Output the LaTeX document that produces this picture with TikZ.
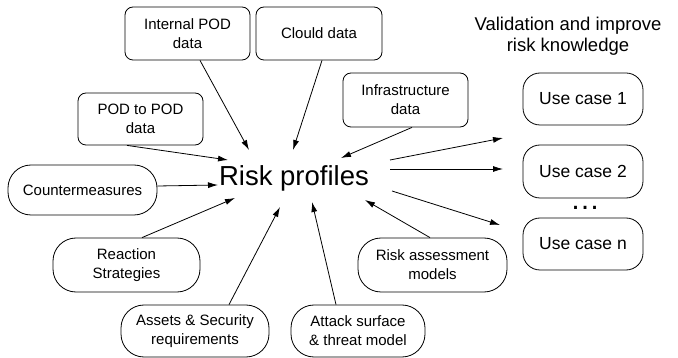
\documentclass[tikz,border=0pt]{standalone}
\usepackage{fontspec}
\setmainfont{Liberation Sans}
\usetikzlibrary{arrows.meta}
\begin{document}
\begin{tikzpicture}[x=1pt,y=-1pt,
  every node/.style={inner sep=0pt},
  box/.style={draw, line width=0.8pt, rounded corners=8pt, align=center, font=\fontsize{15}{19}\selectfont},
  pill/.style={draw, line width=0.8pt, rounded corners=23pt, align=center, font=\fontsize{15}{19}\selectfont},
  usecase/.style={draw, line width=0.8pt, rounded corners=17pt, align=center, minimum width=120pt, font=\fontsize{17.5}{21}\selectfont},
  arr/.style={line width=0.8pt, -{Latex[length=10pt,width=6pt]}}]
\useasboundingbox (0,0) rectangle (678,358);

% input boxes
\node[box, minimum width=125pt, minimum height=53pt] (ipod) at (187.5,33.5) {Internal POD\\data};
\node[box, minimum width=126pt, minimum height=53pt] (cloud) at (319,33.5) {Clould data};
\node[box, minimum width=125pt, minimum height=52pt] (p2p) at (140.5,119) {POD to POD\\data};
\node[box, minimum width=125pt, minimum height=54pt] (infra) at (405.5,100) {Infrastructure\\data};
\node[pill, minimum width=149pt, minimum height=50pt] (cm) at (82.5,190) {Countermeasures};
\node[pill, minimum width=147pt, minimum height=54pt] (react) at (126.5,265) {Reaction\\Strategies};
\node[pill, minimum width=148pt, minimum height=52pt] (assets) at (195,331) {Assets \& Security\\requirements};
\node[pill, minimum width=134pt, minimum height=52pt] (attack) at (358,331) {Attack surface\\\& threat model};
\node[pill, minimum width=149pt, minimum height=54pt] (ram) at (432.5,265) {Risk assessment\\models};

% centre
\node[font=\fontsize{27.5}{32}\selectfont] (rp) at (294,178) {Risk profiles};

% right side
\node[align=center, font=\fontsize{18.5}{20.5}\selectfont] (title) at (568,36) {Validation and improve\\risk knowledge};
\node[usecase, minimum height=52pt] (u1) at (583,99) {Use case 1};
\node[usecase, minimum height=53pt] (u2) at (583,171.5) {Use case 2};
\node[usecase, minimum height=52pt] (un) at (583,244) {Use case n};
\node[font=\fontsize{30}{32}\selectfont] (dots) at (585,208) {…};

% arrow end points around the centre text
\coordinate (e1) at (249,150);
\coordinate (e2) at (293,150);
\coordinate (e3) at (228,160);
\coordinate (e4) at (341,158);
\coordinate (e5) at (218,185);
\coordinate (e6) at (235,198);
\coordinate (e7) at (280,207);
\coordinate (e8) at (312,202);
\coordinate (e9) at (365,200);
\coordinate (o1) at (390,160);
\coordinate (o2) at (390,169);
\coordinate (o3) at (392,191);
\coordinate (t1) at (503,138);
\coordinate (t2) at (503,169);
\coordinate (t3) at (500,225);

\draw[arr] ([xshift=12.5pt]ipod.south) -- (e1);
\draw[arr] ([xshift=3pt]cloud.south) -- (e2);
\draw[arr] ([xshift=-13.5pt]p2p.south) -- (e3);
\draw[arr] ([xshift=6.5pt]infra.south) -- (e4);
\draw[arr] ([yshift=4pt]cm.east) -- (e5);
\draw[arr] ([xshift=15.5pt]react.north) -- (e6);
\draw[arr] ([xshift=34pt]assets.north) -- (e7);
\draw[arr] ([xshift=-22pt]attack.north) -- (e8);
\draw[arr] ([xshift=-2.5pt]ram.north) -- (e9);
\draw[arr] (o1) -- (t1);
\draw[arr] (o2) -- (t2);
\draw[arr] (o3) -- (t3);
\end{tikzpicture}
\end{document}
